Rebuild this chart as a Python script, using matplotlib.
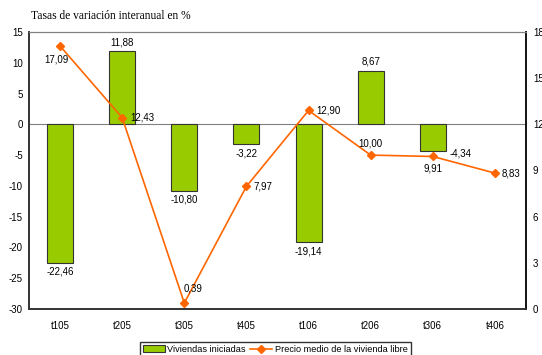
import numpy as np
import matplotlib
matplotlib.use("Agg")
import matplotlib.pyplot as plt

quarters = ["t105", "t205", "t305", "t405", "t106", "t206", "t306", "t406"]
viviendas = [-22.46, 11.88, -10.80, -3.22, -19.14, 8.67, -4.34, np.nan]
precio = [17.09, 12.43, 0.39, 7.97, 12.90, 10.00, 9.91, 8.83]

# label offsets in pixels (dx, dy, ha) for the price series
precio_offsets = [(-4, -14, "center"), (8, 0, "left"), (9, 14, "center"),
                  (7, 0, "left"), (8, 0, "left"), (0, 12, "center"),
                  (0, -12, "center"), (7, 0, "left")]

plt.rcParams["font.family"] = ["Liberation Sans", "DejaVu Sans"]
plt.rcParams["font.size"] = 7
plt.rcParams["axes.unicode_minus"] = False

fig = plt.figure(figsize=(5.42, 3.55), dpi=100)
ax = fig.add_axes([0.0535, 0.1296, 0.917, 0.7803])
ax2 = ax.twinx()

x = np.arange(len(quarters))
bars = ax.bar(x, viviendas, width=0.42, color="#99CC00", edgecolor="#333333",
              linewidth=0.8, label="Viviendas iniciadas", zorder=2)
ax.axhline(0, color="#808080", linewidth=0.8, zorder=1)

for i, v in enumerate(viviendas):
    if np.isnan(v):
        continue
    txt = f"{v:.2f}".replace(".", ",")
    if i == 6:
        ax.annotate(txt, (x[i] + 0.21, v), xytext=(4, -2),
                    textcoords="offset pixels", ha="left", va="center")
    elif v >= 0:
        ax.annotate(txt, (x[i], v), xytext=(0, 4), textcoords="offset pixels",
                    ha="center", va="bottom")
    else:
        ax.annotate(txt, (x[i], v), xytext=(0, -4), textcoords="offset pixels",
                    ha="center", va="top")

line, = ax2.plot(x, precio, color="#FF6600", marker="D", markersize=4.5,
                 linewidth=1.2, label="Precio medio de la vivienda libre",
                 zorder=3)
for i, v in enumerate(precio):
    dx, dy, ha = precio_offsets[i]
    ax2.annotate(f"{v:.2f}".replace(".", ","), (x[i], v), xytext=(dx, dy),
                 textcoords="offset pixels", ha=ha, va="center")

ax.set_xlim(-0.5, len(quarters) - 0.5)
ax.set_ylim(-30, 15)
ax.set_yticks(range(-30, 16, 5))
ax2.set_ylim(0, 18)
ax2.set_yticks(range(0, 19, 3))
ax.set_xticks(x)
ax.set_xticklabels(quarters)

ax.tick_params(axis="x", length=0, pad=9)
ax.tick_params(axis="y", length=0, pad=4.5)
ax2.tick_params(axis="y", length=0, pad=5)

for a in (ax, ax2):
    a.spines["top"].set_color("#808080")
    a.spines["left"].set_color("#333333")
    a.spines["right"].set_color("#111111")
    a.spines["bottom"].set_color("#333333")
    a.spines["left"].set_linewidth(1.2)
    a.spines["right"].set_linewidth(1.2)
    a.spines["bottom"].set_linewidth(1.2)

fig.text(0.057, 0.955, "Tasas de variación interanual en %",
         family=["Liberation Serif", "DejaVu Serif"], fontsize=8.3,
         va="center", ha="left")

leg = fig.legend([bars, line], ["Viviendas iniciadas",
                                "Precio medio de la vivienda libre"],
                 loc="upper center", bbox_to_anchor=(0.508, 0.0366), ncol=2,
                 frameon=True, fancybox=False, edgecolor="black",
                 borderaxespad=0, borderpad=0.3, handlelength=2.4,
                 handletextpad=0.3, columnspacing=0.5, fontsize=6.6)
leg.get_frame().set_linewidth(1.0)

fig.savefig("out.png", dpi=100)
